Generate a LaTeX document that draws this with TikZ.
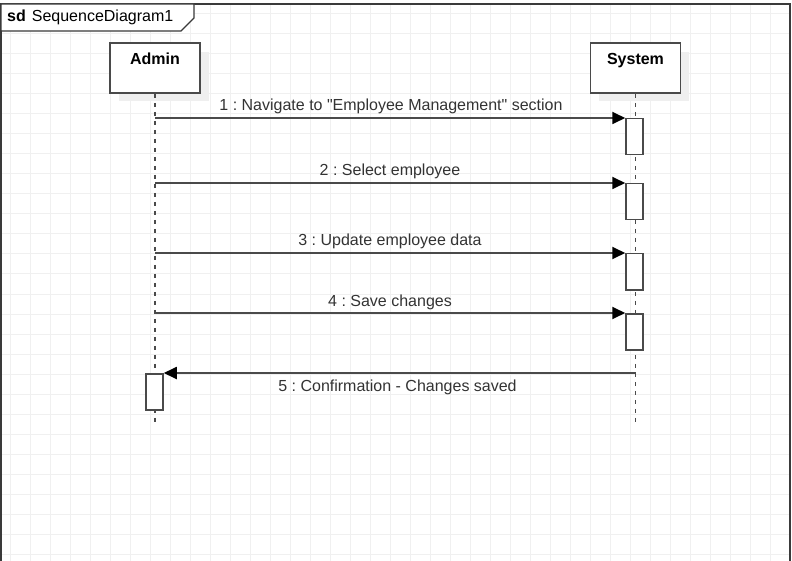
\documentclass[tikz,border=0pt]{standalone}
\usepackage{fontspec}
\setmainfont{Liberation Sans}
\usetikzlibrary{arrows.meta}
\definecolor{gridc}{HTML}{F0F0F0}
\definecolor{framec}{HTML}{3A3A3A}
\definecolor{linec}{HTML}{4A4A4A}
\definecolor{shadowc}{HTML}{EFEFEF}
\frenchspacing
\begin{document}
\begin{tikzpicture}[x=1pt,y=-1pt,
  gridline/.style={gridc, line width=1pt},
  framestyle/.style={framec, line width=1.8pt},
  tagstyle/.style={framec, line width=1.4pt, fill=white},
  lifebox/.style={draw=linec, line width=1.6pt, fill=white, minimum width=90pt, minimum height=50pt, inner sep=0pt},
  boxtext/.style={font=\fontsize{16}{19}\selectfont\bfseries, anchor=base, inner sep=0pt},
  lifeline/.style={draw=linec, line width=1.6pt, dash pattern=on 4pt off 5pt},
  actbox/.style={draw=linec, line width=1.5pt, fill=white, minimum width=17pt, minimum height=36pt, inner sep=0pt, anchor=north},
  msg/.style={draw=linec, line width=1.8pt, -{Triangle[length=13pt,width=12pt,color=black,fill=black]}},
  lbl/.style={font=\fontsize{16}{19}\selectfont, anchor=base, inner sep=0pt, text=black!80}
]
\useasboundingbox (0,0) rectangle (792,561);
\fill[white] (0,0) rectangle (792,561);
% grid
\foreach \x in {10,30,...,790} \draw[gridline] (\x,4) -- (\x,561);
\foreach \y in {14,34,...,554} \draw[gridline] (1,\y) -- (790,\y);
% frame
\draw[framestyle] (1,561) -- (1,4) -- (790,4) -- (790,561);
\draw[tagstyle] (1,4) -- (194,4) -- (194,18) -- (181,31) -- (1,31) -- cycle;
\node[anchor=base west, inner sep=0pt, font=\fontsize{16}{18}\selectfont] (title) at (7,22) {\textbf{sd}\hspace{6pt}SequenceDiagram1};
% shadows
\fill[shadowc] (119,52) rectangle (209,101);
\fill[shadowc] (599,52) rectangle (689,101);
% lifeline heads
\node[lifebox] (admin) at (155,68) {};
\node[boxtext] (adminlbl) at (155,65) {Admin};
\node[lifebox] (system) at (635.5,68) {};
\node[boxtext] (systemlbl) at (635.5,65) {System};
% lifelines
\coordinate (adminEnd) at (155,426);
\coordinate (systemEnd) at (635.5,426);
\draw[lifeline] (admin.south) -- (adminEnd);
\draw[lifeline] (system.south) -- (systemEnd);
% activations
\node[actbox] (a1) at (634.5,118) {};
\node[actbox] (a2) at (634.5,183) {};
\node[actbox] (a3) at (634.5,253) {};
\node[actbox] (a4) at (634.5,313) {};
\node[actbox] (a5) at (154.5,373) {};
% message start points
\coordinate (s1) at (155,118);
\coordinate (s2) at (155,183);
\coordinate (s3) at (155,253);
\coordinate (s4) at (155,313);
\coordinate (s5) at (635.5,373);
% messages
\draw[msg] (s1) -- (a1.north west);
\draw[msg] (s2) -- (a2.north west);
\draw[msg] (s3) -- (a3.north west);
\draw[msg] (s4) -- (a4.north west);
\draw[msg] (s5) -- (a5.north east);
% labels
\node[lbl] (l1) at (391,111) {1 : Navigate to \textquotedbl Employee Management\textquotedbl{} section};
\node[lbl] (l2) at (390,176) {2 : Select employee};
\node[lbl] (l3) at (390,246) {3 : Update employee data};
\node[lbl] (l4) at (390,306) {4 : Save changes};
\node[lbl] (l5) at (397.5,391) {5 : Confirmation - Changes saved};
\end{tikzpicture}
\end{document}
